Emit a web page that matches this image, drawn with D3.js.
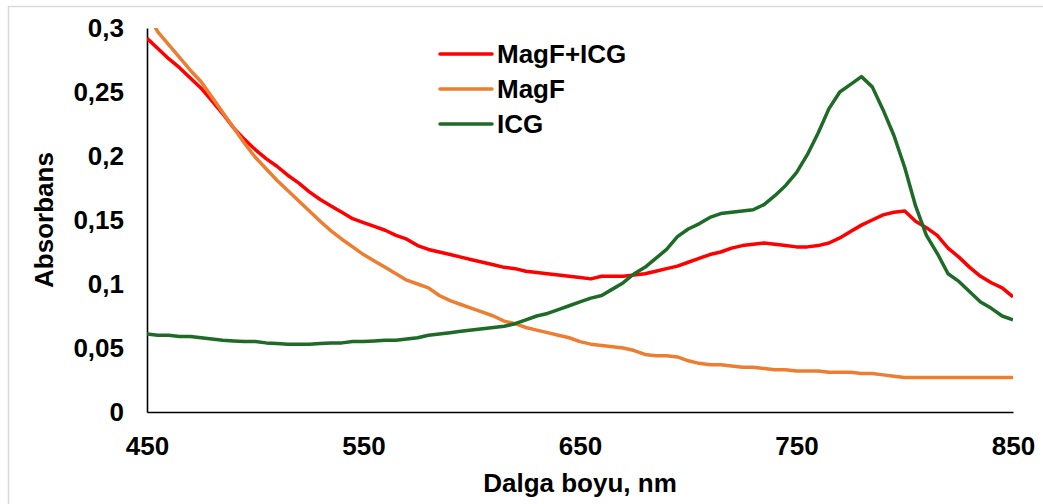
<!DOCTYPE html>
<meta charset="utf-8">
<script src="https://cdn.jsdelivr.net/npm/d3@7"></script>
<style>
  body { margin: 0; background: #fff; }
  text { font-family: "Liberation Sans", Arial, sans-serif; font-weight: bold; }
</style>
<div id="js_chart"></div>
<script>

// ******************************************
// data (5 nm steps)
// ******************************************
const wavelengths = d3.range(450, 851, 5);

const magfIcg = [
  .292, .284, .276, .269, .261, .253, .243, .233, .222, .213,
  .205, .198, .192, .185, .179, .172, .166, .161, .156, .151,
  .148, .145, .142, .138, .135, .130, .127, .125, .123, .121,
  .119, .117, .115, .113, .112, .110, .109, .108, .107, .106,
  .105, .104, .106, .106, .106, .107, .108, .110, .112, .114,
  .117, .120, .123, .125, .128, .130, .131, .132, .131, .130,
  .129, .129, .130, .132, .136, .141, .146, .150, .154, .156,
  .157, .149, .144, .138, .128, .121, .113, .106, .101, .097, .090
];

const magf = [
  .312, .297, .287, .277, .267, .258, .246, .234, .222, .210,
  .199, .190, .181, .173, .165, .157, .149, .1415, .135, .129,
  .123, .118, .113, .108, .103, .100, .097, .091, .087, .084,
  .081, .078, .075, .071, .069, .066, .064, .062, .060, .058,
  .055, .053, .052, .051, .050, .048, .045, .044, .044, .043,
  .040, .038, .037, .037, .036, .035, .035, .034, .033, .033,
  .032, .032, .032, .031, .031, .031, .030, .030, .029, .028,
  .027, .027, .027, .027, .027, .027, .027, .027, .027, .027, .027
];

const icg = [
  .061, .060, .060, .059, .059, .058, .057, .056, .0555, .055,
  .055, .054, .0535, .053, .053, .053, .0535, .054, .054, .055,
  .055, .0555, .056, .056, .057, .058, .060, .061, .062, .063,
  .064, .065, .066, .067, .069, .072, .075, .077, .080, .083,
  .086, .089, .091, .096, .101, .108, .113, .120, .127, .137,
  .143, .147, .152, .155, .156, .157, .158, .162, .169, .177,
  .187, .201, .218, .237, .250, .256, .262, .254, .236, .216,
  .191, .161, .138, .124, .108, .102, .094, .086, .081, .075, .072
];

const seriesNames = ["MagF+ICG", "MagF", "ICG"];
const seriesColors = ["#ff0000", "#ed7d31", "#1d6b27"];
const seriesValues = [magfIcg, magf, icg];

const xTicks = [450, 550, 650, 750, 850];
const yTicks = [0, 0.05, 0.1, 0.15, 0.2, 0.25, 0.3];

// ******************************************
// settings
// ******************************************
const width = 1043, height = 504;
const margin = {top: 28, right: 30, bottom: 92, left: 147};
const plotW = width - margin.left - margin.right,
      plotH = height - margin.top - margin.bottom;
const fontSize = 26;

const x = d3.scaleLinear().domain([450, 850]).range([0, plotW]);
const y = d3.scaleLinear().domain([0, 0.3]).range([plotH, 0]);

const fmt = d => String(d).replace(".", ",");

const svg = d3.select("#js_chart")
    .append("svg")
    .attr("width", width)
    .attr("height", height);

// outer frame of the chart area
svg.append("rect")
    .attr("x", 8.5).attr("y", 6.5)
    .attr("width", width + 20).attr("height", height + 20)
    .attr("fill", "none")
    .attr("stroke", "#d9d9d9")
    .attr("stroke-width", 1.5);

const g = svg.append("g")
    .attr("transform", "translate(" + margin.left + "," + margin.top + ")");

g.append("clipPath").attr("id", "clip")
    .append("rect").attr("width", plotW).attr("height", plotH);

// axes
g.append("g")
    .attr("transform", "translate(0," + plotH + ")")
    .call(d3.axisBottom(x).tickValues(xTicks).tickSize(0).tickPadding(25).tickFormat(d => d))
    .call(a => a.select(".domain").attr("stroke", "#000").attr("stroke-width", 1.6))
    .call(a => a.selectAll("text").attr("font-size", fontSize).attr("fill", "#000"));

g.append("g")
    .call(d3.axisLeft(y).tickValues(yTicks).tickSize(0).tickPadding(23).tickFormat(fmt))
    .call(a => a.select(".domain").attr("stroke", "#000").attr("stroke-width", 1.6))
    .call(a => a.selectAll("text").attr("font-size", fontSize).attr("fill", "#000"));

// lines
const line = d3.line()
    .x((d, i) => x(wavelengths[i]))
    .y(d => y(d));

g.append("g").attr("clip-path", "url(#clip)")
    .selectAll("path")
    .data(seriesValues)
    .enter()
        .append("path")
        .attr("d", line)
        .attr("fill", "none")
        .attr("stroke", (d, i) => seriesColors[i])
        .attr("stroke-width", 3.5)
        .attr("stroke-linejoin", "round");

// titles
svg.append("text")
    .attr("x", margin.left + plotW / 2)
    .attr("y", 492)
    .attr("text-anchor", "middle")
    .attr("font-size", fontSize)
    .text("Dalga boyu, nm");

svg.append("text")
    .attr("transform", "translate(53," + (margin.top + plotH / 2) + ") rotate(-90)")
    .attr("text-anchor", "middle")
    .attr("font-size", fontSize)
    .text("Absorbans");

// legend
const legend = svg.append("g")
    .selectAll("g")
    .data(seriesNames)
    .enter()
        .append("g")
        .attr("transform", (d, i) => "translate(440," + (54 + i * 35) + ")");

legend.append("line")
    .attr("x1", 0).attr("x2", 52)
    .attr("stroke", (d, i) => seriesColors[i])
    .attr("stroke-width", 3.5)
    .attr("stroke-linecap", "round");

legend.append("text")
    .attr("x", 57).attr("y", 9)
    .attr("font-size", fontSize)
    .text(d => d);

</script>
